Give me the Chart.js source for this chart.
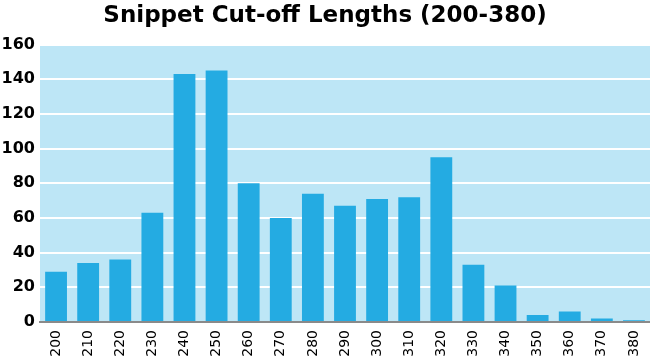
<!DOCTYPE html>
<html>
<head>
<meta charset="utf-8">
<script src="https://cdn.jsdelivr.net/npm/chart.js@4"></script>
<style>
  html, body { margin: 0; padding: 0; background: #fff; }
  #wrap { width: 650px; height: 359px; }
</style>
</head>
<body>
<div id="wrap"><canvas id="myChart"></canvas></div>
<script>
const lengths = ['200', '210', '220', '230', '240', '250', '260', '270', '280', '290',
    '300', '310', '320', '330', '340', '350', '360', '370', '380'];
const counts = [29, 34, 36, 63, 143, 145, 80, 60, 74, 67, 71, 72, 95, 33, 21, 4, 6, 2, 1];
const yTicks = [0, 20, 40, 60, 80, 100, 120, 140, 160];

// fill the plot area light blue
const plotBg = {
    id: 'plotBg',
    beforeDraw(chart) {
        const { ctx, chartArea } = chart;
        ctx.save();
        ctx.fillStyle = '#bde6f6';
        ctx.fillRect(chartArea.left, chartArea.top, chartArea.right - chartArea.left, chartArea.bottom - chartArea.top);
        ctx.restore();
    }
};

let ctx = document.getElementById('myChart').getContext('2d');

const myChart = new Chart(ctx, {
    type: 'bar',
    data: {
        labels: lengths,
        datasets: [{
            label: 'Count',
            data: counts,
            backgroundColor: '#24abe2',
            barPercentage: 0.68,
            categoryPercentage: 1
        }]
    },
    options: {
        responsive: true,
        maintainAspectRatio: false,
        animation: false,
        layout: { padding: 0 },
        plugins: {
            legend: { display: false },
            tooltip: { enabled: false },
            title: {
                display: true,
                text: 'Snippet Cut-off Lengths (200-380)',
                color: '#000',
                font: { family: 'DejaVu Sans', size: 23, weight: 'bold' },
                padding: { top: 2, bottom: 15 }
            }
        },
        scales: {
            x: {
                grid: { display: false, drawTicks: false },
                border: { display: true, color: '#8a8a8a', width: 2 },
                afterFit(axis) {
                    axis.height = 37;
                    axis.paddingLeft = 0;
                    axis.paddingRight = 0;
                },
                ticks: {
                    color: '#000',
                    font: { family: 'DejaVu Sans', size: 14 },
                    maxRotation: 90,
                    minRotation: 90,
                    padding: 8
                }
            },
            y: {
                min: 0,
                max: 160,
                afterBuildTicks(axis) {
                    axis.ticks = yTicks.map(v => ({ value: v }));
                },
                afterFit(axis) { axis.width = 40; },
                grid: { color: '#ffffff', lineWidth: 2, drawTicks: false },
                border: { display: false },
                ticks: {
                    color: '#000',
                    font: { family: 'DejaVu Sans', size: 16, weight: 'bold' },
                    padding: 5
                }
            }
        }
    },
    plugins: [plotBg]
});
</script>
</body>
</html>
